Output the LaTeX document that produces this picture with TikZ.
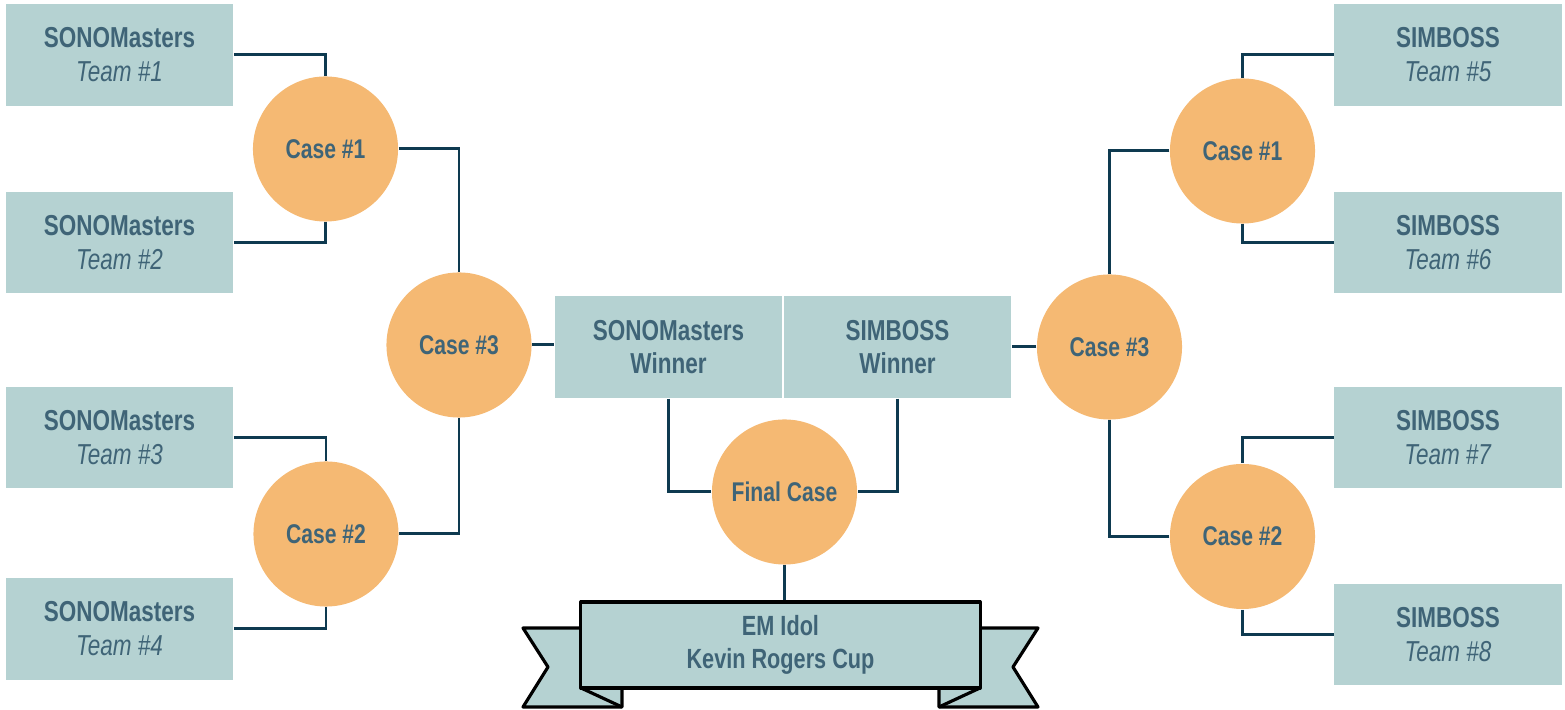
\documentclass[tikz,border=0pt]{standalone}
\usepackage{fontspec}
\setmainfont{Liberation Sans}[FakeStretch=0.78]
\definecolor{boxfill}{HTML}{B5D2D2}
\definecolor{txt}{HTML}{3F6477}
\definecolor{casefill}{HTML}{F5B973}
\definecolor{wire}{HTML}{0E3A50}
\begin{document}
\begin{tikzpicture}[x=0.01cm,y=-0.01cm,
  team/.style={fill=boxfill,text=txt,minimum width=2.27cm,minimum height=1.01cm,
    inner sep=0pt,align=center,font=\fontsize{8.2}{9.7}\selectfont},
  winner/.style={team,minimum height=1.02cm,font=\fontsize{8.2}{9.2}\selectfont},
  case/.style={circle,fill=casefill,text=txt,minimum size=1.45cm,inner sep=0pt,
    font=\bfseries\fontsize{7.7}{9.4}\selectfont},
  wirestyle/.style={draw=wire,line width=0.85pt},
  ribbon/.style={fill=boxfill,draw=black,line width=0.9pt,line join=round}]
\useasboundingbox (0,0) rectangle (1565,710);
% teams left
\node[team] (t1) at (119.5,55) {\textbf{SONOMasters}\\\textit{Team \#1}};
\node[team] (t2) at (119.5,242.5) {\textbf{SONOMasters}\\\textit{Team \#2}};
\node[team] (t3) at (119.5,437.5) {\textbf{SONOMasters}\\\textit{Team \#3}};
\node[team] (t4) at (119.5,629) {\textbf{SONOMasters}\\\textit{Team \#4}};
% teams right
\node[team] (t5) at (1448,55) {\textbf{SIMBOSS}\\\textit{Team \#5}};
\node[team] (t6) at (1448,242.5) {\textbf{SIMBOSS}\\\textit{Team \#6}};
\node[team] (t7) at (1448,437.5) {\textbf{SIMBOSS}\\\textit{Team \#7}};
\node[team] (t8) at (1448,634.5) {\textbf{SIMBOSS}\\\textit{Team \#8}};
% cases
\node[case] (l1) at (325.5,149) {Case \#1};
\node[case] (l2) at (326,534) {Case \#2};
\node[case] (l3) at (459,345) {Case \#3};
\node[case] (r1) at (1242.5,151) {Case \#1};
\node[case] (r2) at (1242.5,536.5) {Case \#2};
\node[case] (r3) at (1109.5,347) {Case \#3};
\node[case] (fin) at (784.5,492) {Final Case};
% winners
\node[winner] (w1) at (668.5,347) {\textbf{SONOMasters}\\\textbf{Winner}};
\node[winner] (w2) at (897.5,347) {\textbf{SIMBOSS}\\\textbf{Winner}};
% connectors
\draw[wirestyle] (t1.east) -| (l1.north);
\draw[wirestyle] (t2.east) -| (l1.south);
\draw[wirestyle] (t3.east) -| (l2.north);
\draw[wirestyle] (t4.east) -| (l2.south);
\draw[wirestyle] (l1.east) -| (l3.north);
\draw[wirestyle] (l2.east) -| (l3.south);
\draw[wirestyle] (l3.east) -- (l3.east -| w1.west);
\draw[wirestyle] (t5.west) -| (r1.north);
\draw[wirestyle] (t6.west) -| (r1.south);
\draw[wirestyle] (t7.west) -| (r2.north);
\draw[wirestyle] (t8.west) -| (r2.south);
\draw[wirestyle] (r1.west) -| (r3.north);
\draw[wirestyle] (r2.west) -| (r3.south);
\draw[wirestyle] (r3.west) -- (r3.west -| w2.east);
\draw[wirestyle] (w1.south) |- (fin.west);
\draw[wirestyle] (w2.south) |- (fin.east);
% banner tails
\draw[ribbon] (523,628) -- (622,628) -- (622,707) -- (523,707) -- (548,667) -- cycle;
\draw[ribbon] (581,688) -- (622,707);
\draw[ribbon] (1038,628) -- (939,628) -- (939,707) -- (1038,707) -- (1013,667) -- cycle;
\draw[ribbon] (980,688) -- (939,707);
% banner main
\node[ribbon,text=txt,minimum width=3.99cm,minimum height=0.86cm,inner sep=0pt,
  align=center,font=\bfseries\fontsize{7.9}{9.2}\selectfont] (cup) at (780.5,645)
  {EM Idol\\Kevin Rogers Cup};
\draw[wirestyle] (fin.south) -- (fin.south |- cup.north);
\end{tikzpicture}
\end{document}
